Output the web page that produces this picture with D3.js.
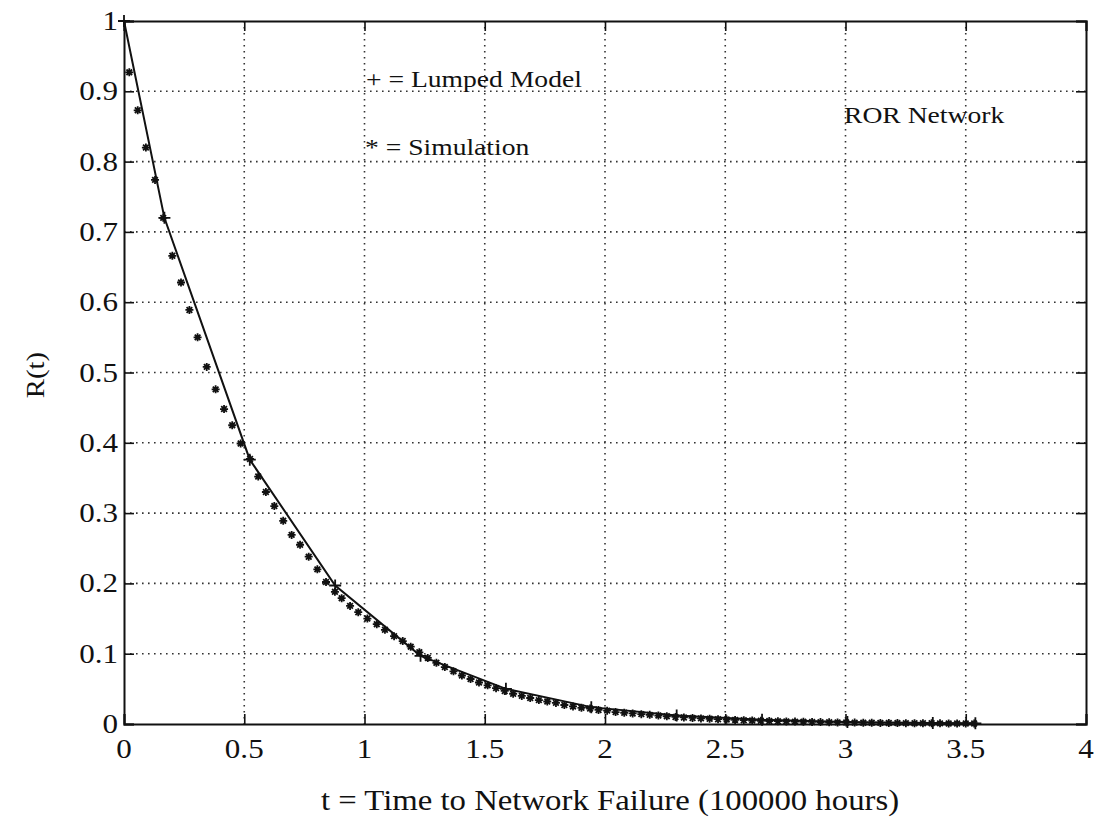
<!DOCTYPE html>
<html><head><meta charset="utf-8">
<script src="https://cdn.jsdelivr.net/npm/d3@7"></script>
<style>
body{margin:0;background:#fff}
text{font-family:"Liberation Serif","Times New Roman",serif;fill:#111}
</style></head>
<body><svg id="c" width="1099" height="829"></svg>
<script>
// ---- data ----
const xTicks = [0,0.5,1,1.5,2,2.5,3,3.5,4];
const yTicks = [0,0.1,0.2,0.3,0.4,0.5,0.6,0.7,0.8,0.9,1];
const xTickLabels = ["0","0.5","1","1.5","2","2.5","3","3.5","4"];
const yTickLabels = ["0","0.1","0.2","0.3","0.4","0.5","0.6","0.7","0.8","0.9","1"];

const lumpedT = [0,0.168,0.523,0.878,1.233,1.588,1.943,2.298,2.653,3.008,3.363,3.54];
const lumpedR = [1,0.720,0.376,0.197,0.097,0.050,0.024,0.012,0.006,0.003,0.0015,0.001];

const simT = [0.022,0.057,0.091,0.129,0.163,0.201,0.237,0.272,0.306,0.344,0.381,0.416,0.450,0.485,0.524,0.558,0.590,0.625,0.662,0.697,0.732,0.768,0.804,0.840,0.877,0.905,0.940,0.974,1.012,1.051,1.085,1.123,1.159,1.192,
1.228,1.263,1.299,1.334,1.370,1.405,1.441,1.476,1.512,1.547,1.583,1.618,1.654,1.689,1.725,1.760,1.796,1.831,1.867,1.902,1.938,1.973,2.009,2.044,2.080,2.115,2.151,2.186,2.222,2.257,2.293,2.328,2.364,2.399,2.435,2.470,2.506,2.541,2.577,2.612,2.648,2.683,2.719,2.754,2.790,2.825,2.861,2.896,2.932,2.967,3.003,3.038,3.074,3.109,3.145,3.180,3.216,3.251,3.287,3.322,3.358,3.393,3.429,3.464,3.500,3.535];
const simR = [0.927,0.873,0.820,0.774,0.720,0.666,0.628,0.589,0.550,0.508,0.476,0.448,0.425,0.399,0.377,0.352,0.330,0.310,0.289,0.269,0.255,0.238,0.220,0.202,0.188,0.179,0.168,0.159,0.150,0.142,0.134,0.125,0.118,0.110,
0.102,0.094,0.087,0.081,0.075,0.069,0.064,0.059,0.055,0.051,0.047,0.043,0.040,0.037,0.034,0.032,0.030,0.027,0.025,0.023,0.022,0.020,0.019,0.017,0.016,0.015,0.014,0.013,0.012,0.011,0.010,0.0093,0.0086,0.0080,0.0074,0.0068,0.0063,0.0058,0.0054,0.0050,0.0046,0.0043,0.0040,0.0037,0.0034,0.0031,0.0029,0.0027,0.0025,0.0023,0.0021,0.0020,0.0018,0.0017,0.0016,0.0015,0.0013,0.0012,0.0011,0.0010,0.0010,0.0009,0.0008,0.0008,0.0007,0.0007];

const legendLines = ["+ = Lumped Model","* = Simulation"];
const annotation = "ROR Network";
const xLabel = "t = Time to Network Failure (100000 hours)";
const yLabel = "R(t)";

// ---- layout ----
const L=124,R=1086,T=21,B=724;
const x=d3.scaleLinear().domain([0,4]).range([L,R]);
const y=d3.scaleLinear().domain([0,1]).range([B,T]);
const svg=d3.select("#c");
const sx=1.15;

function txt(px,py,s,size,anchor){
  const g=svg.append("g").attr("transform",`translate(${px},${py}) scale(${sx},1)`);
  g.append("text").attr("text-anchor",anchor||"start").attr("font-size",size).text(s);
  return g;
}

// grid
const grid=svg.append("g").attr("stroke","#333").attr("stroke-width",1.6).attr("stroke-dasharray","1.6,4.4");
grid.selectAll("line.vx").data(xTicks.slice(1,-1)).join("line")
  .attr("x1",d=>x(d)).attr("x2",d=>x(d)).attr("y1",T).attr("y2",B);
grid.selectAll("line.hy").data(yTicks.slice(1,-1)).join("line")
  .attr("x1",L).attr("x2",R).attr("y1",d=>y(d)).attr("y2",d=>y(d));

// axes via d3 axis (inward ticks)
const tk=10;
const axB=svg.append("g").attr("transform",`translate(0,${B})`).call(d3.axisBottom(x).tickValues(xTicks).tickSize(-tk).tickFormat(""));
const axT=svg.append("g").attr("transform",`translate(0,${T})`).call(d3.axisTop(x).tickValues(xTicks).tickSize(-tk).tickFormat(""));
const axL=svg.append("g").attr("transform",`translate(${L},0)`).call(d3.axisLeft(y).tickValues(yTicks).tickSize(-tk).tickFormat(""));
const axR=svg.append("g").attr("transform",`translate(${R},0)`).call(d3.axisRight(y).tickValues(yTicks).tickSize(-tk).tickFormat(""));
[axB,axT,axL,axR].forEach(a=>{a.select(".domain").attr("stroke","#111").attr("stroke-width",2);a.selectAll(".tick line").attr("stroke","#111").attr("stroke-width",1.6);});

// tick labels
xTicks.forEach((v,i)=>txt(x(v),B+34,xTickLabels[i],27,"middle"));
yTicks.forEach((v,i)=>txt(L-6,y(v)+9,yTickLabels[i],27,"end"));

// lumped line
svg.append("path").datum(lumpedT.map((t,i)=>[t,lumpedR[i]]))
  .attr("fill","none").attr("stroke","#111").attr("stroke-width",2)
  .attr("d",d3.line().x(d=>x(d[0])).y(d=>y(d[1])));
// plus markers
svg.append("g").selectAll("path").data(lumpedT.map((t,i)=>[t,lumpedR[i]])).join("path")
  .attr("d",d=>{const cx=x(d[0]),cy=y(d[1]);return `M${cx-6},${cy}H${cx+6}M${cx},${cy-6}V${cy+6}`;})
  .attr("stroke","#111").attr("stroke-width",1.8);
// star markers
svg.append("g").selectAll("path").data(simT.map((t,i)=>[t,simR[i]])).join("path")
  .attr("d",d=>{const cx=x(d[0]),cy=y(d[1]),r=4;let s="";
    for(let k=0;k<4;k++){const a=k*Math.PI/4;s+=`M${cx-r*Math.cos(a)},${cy-r*Math.sin(a)}L${cx+r*Math.cos(a)},${cy+r*Math.sin(a)}`;}return s;})
  .attr("stroke","#111").attr("stroke-width",1.8);

// legend & annotation
txt(366,87,legendLines[0],24,"start");
txt(365,155,legendLines[1],24,"start");
txt(844,123,annotation,24,"start");
// axis labels
txt(610,810,xLabel,28.5,"middle");
svg.append("g").attr("transform",`translate(44,375) rotate(-90) scale(${sx},1)`)
  .append("text").attr("text-anchor","middle").attr("font-size",25).text(yLabel);
</script></body></html>
